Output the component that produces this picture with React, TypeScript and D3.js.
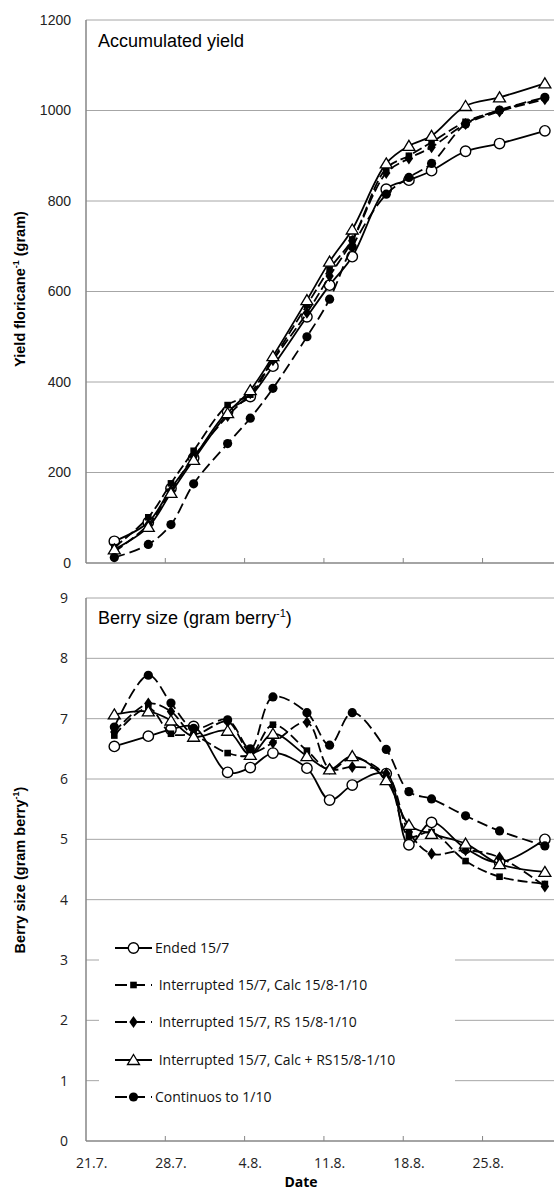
import { useRef, useEffect } from 'react'
import * as d3 from 'd3'

// sampling dates (day.month.)
const dates = ['23.7.', '26.7.', '28.7.', '30.7.', '2.8.', '4.8.', '6.8.', '9.8.', '11.8.', '13.8.', '16.8.', '18.8.', '20.8.', '23.8.', '26.8.', '30.8.']
const tickDates = ['21.7.', '28.7.', '4.8.', '11.8.', '18.8.', '25.8.']

const seriesNames = [
  'Ended 15/7',
  ' Interrupted 15/7, Calc 15/8-1/10',
  ' Interrupted 15/7, RS 15/8-1/10',
  ' Interrupted 15/7, Calc + RS15/8-1/10',
  'Continuos to 1/10',
]

// accumulated yield, gram per floricane
const yieldEnded = [48, 90, 165, 232, 335, 368, 435, 544, 614, 677, 826, 846, 867, 910, 927, 955]
const yieldCalc = [35, 101, 176, 248, 349, 372, 450, 570, 650, 715, 872, 900, 930, 975, 1000, 1028]
const yieldRS = [25, 85, 160, 235, 325, 375, 448, 553, 634, 712, 862, 894, 919, 970, 998, 1025]
const yieldCalcRS = [30, 80, 155, 228, 331, 382, 457, 581, 666, 737, 883, 922, 944, 1010, 1029, 1060]
const yieldCont = [12, 41, 85, 175, 264, 320, 386, 500, 583, 699, 815, 852, 883, 970, 1001, 1029]

// berry size, gram per berry
const berryEnded = [6.54, 6.71, 6.82, 6.87, 6.11, 6.19, 6.43, 6.18, 5.65, 5.9, 6.09, 4.91, 5.28, 4.85, 4.62, 5.0]
const berryCalc = [6.72, 7.18, 6.75, 6.72, 6.43, 6.4, 6.9, 6.47, 6.15, 6.35, 6.05, 5.05, 5.12, 4.64, 4.38, 4.26]
const berryRS = [6.78, 7.25, 7.12, 6.75, 6.95, 6.45, 6.6, 6.94, 6.17, 6.2, 6.09, 5.12, 4.76, 4.82, 4.7, 4.22]
const berryCalcRS = [7.07, 7.12, 6.97, 6.7, 6.8, 6.4, 6.75, 6.38, 6.16, 6.38, 5.98, 5.24, 5.09, 4.93, 4.59, 4.46]
const berryCont = [6.86, 7.72, 7.26, 6.84, 6.98, 6.5, 7.36, 7.1, 6.56, 7.1, 6.49, 5.79, 5.67, 5.39, 5.14, 4.89]

const yieldTicks = [0, 200, 400, 600, 800, 1000, 1200]
const berryTicks = [0, 1, 2, 3, 4, 5, 6, 7, 8, 9]

type Style = { dash: string | null; marker: 'ocircle' | 'square' | 'diamond' | 'triangle' | 'circle' }
const styles: Style[] = [
  { dash: null, marker: 'ocircle' },
  { dash: '10,4', marker: 'square' },
  { dash: '10,4', marker: 'diamond' },
  { dash: null, marker: 'triangle' },
  { dash: '11,5', marker: 'circle' },
]

const W = 554
const H = 1191
const parse = d3.timeParse('%d.%m.')
const GRID = '#a6a6a6'
const AXIS = '#868686'

function drawMarker(g: d3.Selection<SVGGElement, unknown, null, undefined>, kind: Style['marker'], x: number, y: number) {
  if (kind === 'ocircle') {
    g.append('circle').attr('cx', x).attr('cy', y).attr('r', 5.2).attr('fill', '#fff').attr('stroke', '#000').attr('stroke-width', 1.4)
  } else if (kind === 'circle') {
    g.append('circle').attr('cx', x).attr('cy', y).attr('r', 4.6).attr('fill', '#000')
  } else if (kind === 'square') {
    g.append('rect').attr('x', x - 3.3).attr('y', y - 3.3).attr('width', 6.6).attr('height', 6.6).attr('fill', '#000')
  } else if (kind === 'diamond') {
    g.append('path').attr('d', d3.symbol(d3.symbolDiamond, 42)()).attr('transform', `translate(${x},${y}) scale(1.2,1)`).attr('fill', '#000')
  } else {
    g.append('path')
      .attr('d', `M${x},${y - 5.5}L${x + 6},${y + 4.5}L${x - 6},${y + 4.5}Z`)
      .attr('fill', '#fff').attr('stroke', '#000').attr('stroke-width', 1.3)
  }
}

export default function App() {
  const svgRef = useRef<SVGSVGElement>(null)

  useEffect(() => {
    if (!svgRef.current) return
    const svg = d3.select(svgRef.current)
    svg.selectAll('*').remove()

    const left = 86
    const x = d3.scaleTime()
      .domain([parse('21.7.')!, parse('1.9.')!])
      .range([left, left + 42 * 11.33])
    const mid = (s: string) => d3.timeHour.offset(parse(s)!, 12)

    const panels = [
      { top: 20, bottom: 563, max: 1200, ticks: yieldTicks, data: [yieldEnded, yieldCalc, yieldRS, yieldCalcRS, yieldCont], tickFont: 'Liberation Sans, Arial, sans-serif', tickRight: 71 },
      { top: 598, bottom: 1141, max: 9, ticks: berryTicks, data: [berryEnded, berryCalc, berryRS, berryCalcRS, berryCont], tickFont: 'Open Sans, sans-serif', tickRight: 68 },
    ]

    panels.forEach((p, pi) => {
      const y = d3.scaleLinear().domain([0, p.max]).range([p.bottom, p.top])
      const g = svg.append('g') as d3.Selection<SVGGElement, unknown, null, undefined>

      // Gridlines
      g.selectAll('.grid')
        .data(p.ticks.filter((t) => t > 0))
        .join('line')
        .attr('x1', left).attr('x2', W)
        .attr('y1', (d) => y(d)).attr('y2', (d) => y(d))
        .attr('stroke', GRID).attr('stroke-width', 1)

      // Y tick labels
      g.selectAll('.ylab')
        .data(p.ticks)
        .join('text')
        .attr('x', p.tickRight)
        .attr('y', (d) => y(d))
        .attr('dy', '0.35em')
        .attr('text-anchor', 'end')
        .attr('font-family', p.tickFont)
        .attr('font-size', 14)
        .attr('fill', '#222')
        .text((d) => String(d))

      // Legend box (white) over gridlines
      if (pi === 1) {
        g.append('rect').attr('x', 99).attr('y', 930).attr('width', 356).attr('height', 184).attr('fill', '#fff')
      }

      // Axes frame
      g.append('line').attr('x1', left).attr('x2', left).attr('y1', p.top).attr('y2', p.bottom).attr('stroke', AXIS).attr('stroke-width', 1.5)
      g.append('line').attr('x1', left).attr('x2', W).attr('y1', p.bottom).attr('y2', p.bottom).attr('stroke', AXIS).attr('stroke-width', 1.5)
      g.selectAll('.xt')
        .data(tickDates.slice(1))
        .join('line')
        .attr('x1', (d) => x(parse(d)!)).attr('x2', (d) => x(parse(d)!))
        .attr('y1', p.bottom).attr('y2', p.bottom - 5)
        .attr('stroke', AXIS).attr('stroke-width', 1)

      // Series lines
      const line = d3.line<number>()
        .x((_, i) => x(mid(dates[i])))
        .y((d) => y(d))
        .curve(d3.curveCatmullRom.alpha(0.5))

      p.data.forEach((vals, si) => {
        g.append('path')
          .attr('d', line(vals))
          .attr('fill', 'none')
          .attr('stroke', '#000')
          .attr('stroke-width', 1.8)
          .attr('stroke-dasharray', styles[si].dash ?? null)
        vals.forEach((v, i) => drawMarker(g, styles[si].marker, x(mid(dates[i])), y(v)))
      })
    })

    // X tick labels (centered on the day)
    svg.selectAll('.xlab')
      .data(tickDates)
      .join('text')
      .attr('x', (d) => x(mid(d)))
      .attr('y', 1168)
      .attr('text-anchor', 'middle')
      .attr('font-family', 'Open Sans, sans-serif')
      .attr('font-size', 14)
      .attr('fill', '#222')
      .text((d) => d)

    svg.append('text')
      .attr('x', 301).attr('y', 1187)
      .attr('text-anchor', 'middle')
      .attr('font-family', 'Open Sans, sans-serif')
      .attr('font-weight', 'bold')
      .attr('font-size', 14)
      .text('Date')

    // Panel titles
    svg.append('text')
      .attr('x', 98).attr('y', 47)
      .attr('font-family', 'Liberation Sans, Arial, sans-serif')
      .attr('font-size', 18)
      .text('Accumulated yield')

    const t2 = svg.append('text')
      .attr('x', 98).attr('y', 624)
      .attr('font-family', 'Liberation Sans, Arial, sans-serif')
      .attr('font-size', 18)
    t2.append('tspan').text('Berry size (gram berry')
    t2.append('tspan').attr('dy', -7).attr('font-size', 11).text('-1')
    t2.append('tspan').attr('dy', 7).text(')')

    // Y axis titles
    const yTitle = (cx: number, cy: number, pre: string, post: string) => {
      const t = svg.append('text')
        .attr('transform', `translate(${cx},${cy}) rotate(-90)`)
        .attr('text-anchor', 'middle')
        .attr('font-family', 'Liberation Sans, Arial, sans-serif')
        .attr('font-weight', 'bold')
        .attr('font-size', 14.5)
      t.append('tspan').text(pre)
      t.append('tspan').attr('dy', -6).attr('font-size', 9).text('-1')
      t.append('tspan').attr('dy', 6).text(post)
    }
    yTitle(25, 289, 'Yield floricane', ' (gram)')
    yTitle(25, 870, 'Berry size (gram berry', ')')

    // Legend
    const legendY = [948, 985, 1022, 1060, 1097]
    seriesNames.forEach((name, i) => {
      const g = svg.append('g') as d3.Selection<SVGGElement, unknown, null, undefined>
      const ly = legendY[i]
      g.append('line')
        .attr('x1', 115).attr('x2', 152).attr('y1', ly).attr('y2', ly)
        .attr('stroke', '#000').attr('stroke-width', 1.8)
        .attr('stroke-dasharray', styles[i].dash ? '12,6' : null)
      drawMarker(g, styles[i].marker, 133.5, ly)
      g.append('text')
        .attr('x', 155).attr('y', ly).attr('dy', '0.35em')
        .attr('font-family', 'Open Sans, sans-serif')
        .attr('font-size', 14)
        .attr('fill', '#111')
        .attr('xml:space', 'preserve')
        .style('white-space', 'pre')
        .text(name)
    })
  }, [])

  return (
    <svg
      ref={svgRef}
      width={W}
      height={H}
      style={{ position: 'absolute', left: 0, top: 0, background: '#fff' }}
    />
  )
}
